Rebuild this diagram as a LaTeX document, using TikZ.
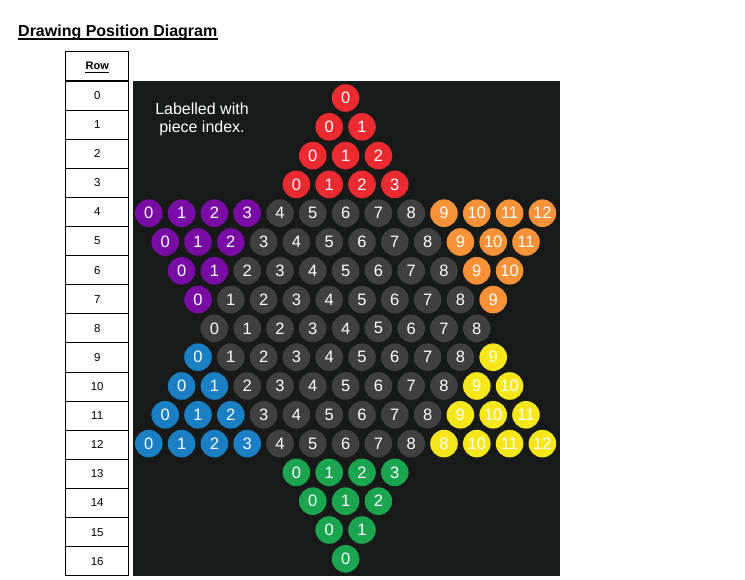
\documentclass[tikz,border=0pt]{standalone}
\usepackage{fontspec}
\setmainfont{Liberation Sans}
\definecolor{bgc}{HTML}{181A1A}
\definecolor{cred}{HTML}{EC2B31}
\definecolor{cpur}{HTML}{7A0CA6}
\definecolor{cora}{HTML}{F79238}
\definecolor{cgrey}{HTML}{404040}
\definecolor{cblue}{HTML}{1A7FC3}
\definecolor{cyel}{HTML}{F6E71B}
\definecolor{cgrn}{HTML}{1BA54F}
\tikzset{
  piece/.style={circle, minimum size=27.6pt, inner sep=0pt, text=white, font=\fontsize{16.5}{16.5}\selectfont},
  cell/.style={draw=black, line width=0.9pt, minimum width=62.6pt, minimum height=29.1pt, inner sep=0pt, font=\fontsize{11.5}{11.5}\selectfont},
}
\begin{document}
\begin{tikzpicture}[x=1pt,y=-1pt]
\useasboundingbox (0,0) rectangle (745,580);
% title
\node[anchor=base west, inner sep=0pt, font=\bfseries\fontsize{16}{16}\selectfont] (title) at (18,36.5) {Drawing Position Diagram};
\draw[line width=1.3pt] ([yshift=-2.6pt]title.base west) -- ([yshift=-2.6pt]title.base east);
% table
\node[cell, minimum height=29pt] (hdr) at (97.2,66.2) {};
\node[anchor=base, inner sep=0pt, font=\bfseries\fontsize{11}{11}\selectfont] (rowlbl) at (97.2,70) {Row};
\draw[line width=0.9pt] ([yshift=-2.2pt]rowlbl.base west) -- ([yshift=-2.2pt]rowlbl.base east);
\foreach \r in {0,...,16}{
  \node[cell] (t\r) at (97.2,{95.6+29.1*\r}) {\r};
}
% board
\fill[bgc] (132.5,81) rectangle (560,576);
\node[align=center, text=white, inner sep=0pt, font=\fontsize{16}{18}\selectfont] (note) at (202,119) {Labelled with\\piece index.};
\foreach \r/\n/\L/\R/\lc/\rc in {
  0/1/0/99/cred/cred, 1/2/1/99/cred/cred, 2/3/2/99/cred/cred, 3/4/3/99/cred/cred,
  4/13/3/9/cpur/cora, 5/12/2/9/cpur/cora, 6/11/1/9/cpur/cora, 7/10/0/9/cpur/cora,
  8/9/-1/99/cgrey/cgrey,
  9/10/0/9/cblue/cyel, 10/11/1/9/cblue/cyel, 11/12/2/9/cblue/cyel, 12/13/3/9/cblue/cyel,
  13/4/3/99/cgrn/cgrn, 14/3/2/99/cgrn/cgrn, 15/2/1/99/cgrn/cgrn, 16/1/0/99/cgrn/cgrn}{
  \pgfmathtruncatemacro\last{\n-1}
  \foreach \i in {0,...,\last}{
    \ifnum\i>\L\relax
      \ifnum\i<\R\relax \def\cc{cgrey}\else\def\cc{\rc}\fi
    \else \def\cc{\lc}\fi
    \def\lab{\i}
    \ifnum\r=12\relax \ifnum\i=9\relax \def\lab{8}\fi\fi
    \node[piece, fill=\cc] (p\r-\i) at ({345.6+(\i-(\n-1)/2)*32.8},{98+28.8*\r}) {\lab};
  }
}
\end{tikzpicture}
\end{document}
